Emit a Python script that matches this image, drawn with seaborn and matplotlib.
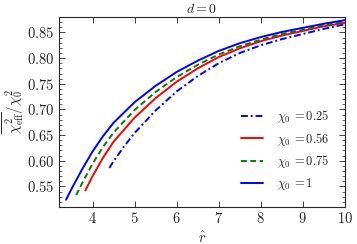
import seaborn as sns
import matplotlib.pyplot as plt
import pandas as pd
from matplotlib.ticker import MultipleLocator, FuncFormatter

# curves, r_hat vs chi_eff^2 / chi_0^2
r_chi1 = [3.37, 3.5, 3.75, 4.0, 4.25, 4.5, 5.0, 5.5, 6.0, 6.5, 7.0, 7.5, 8.0, 8.5, 9.0, 9.5, 10.0]
v_chi1 = [0.524, 0.545, 0.583, 0.618, 0.648, 0.674, 0.714, 0.746, 0.773, 0.795, 0.814, 0.829, 0.841, 0.851, 0.859, 0.867, 0.874]

r_chi075 = [3.61, 3.75, 4.0, 4.25, 4.5, 5.0, 5.5, 6.0, 6.5, 7.0, 7.5, 8.0, 8.5, 9.0, 9.5, 10.0]
v_chi075 = [0.533, 0.556, 0.594, 0.627, 0.655, 0.699, 0.734, 0.763, 0.787, 0.807, 0.823, 0.836, 0.847, 0.855, 0.864, 0.871]

r_chi056 = [3.83, 4.0, 4.25, 4.5, 5.0, 5.5, 6.0, 6.5, 7.0, 7.5, 8.0, 8.5, 9.0, 9.5, 10.0]
v_chi056 = [0.542, 0.570, 0.606, 0.637, 0.684, 0.722, 0.754, 0.780, 0.802, 0.819, 0.833, 0.844, 0.853, 0.862, 0.869]

r_chi025 = [4.4, 4.5, 4.75, 5.0, 5.5, 6.0, 6.5, 7.0, 7.5, 8.0, 8.5, 9.0, 9.5, 10.0]
v_chi025 = [0.586, 0.599, 0.628, 0.654, 0.698, 0.735, 0.765, 0.790, 0.810, 0.825, 0.837, 0.847, 0.857, 0.866]

labels = [r'$\chi_0\,{=}0.25$', r'$\chi_0\,{=}0.56$', r'$\chi_0\,{=}0.75$', r'$\chi_0\,{=}1$']

sns.set_style('ticks')
plt.rcParams['font.family'] = ['DejaVu Serif']
plt.rcParams['mathtext.fontset'] = 'cm'
plt.rcParams['xtick.direction'] = 'in'
plt.rcParams['ytick.direction'] = 'in'

fig = plt.figure(figsize=(3.57, 2.44), dpi=100)
ax = fig.add_axes([0.165, 0.152, 0.801, 0.778])

series = [
    (r_chi025, v_chi025, labels[0], '#0000ff', (0, (3.5, 1.5, 1, 1.5))),
    (r_chi056, v_chi056, labels[1], '#ff0000', '-'),
    (r_chi075, v_chi075, labels[2], '#008000', (0, (3, 1.8))),
    (r_chi1, v_chi1, labels[3], '#0000ff', '-'),
]
for r, v, lab, col, ls in series:
    df = pd.DataFrame({'r': r, 'v': v})
    sns.lineplot(data=df, x='r', y='v', ax=ax, color=col, linestyle=ls,
                 linewidth=1.4, label=lab, estimator=None, sort=False)

ax.set_xlim(3.2, 10)
ax.set_ylim(0.51, 0.88)
ax.xaxis.set_major_locator(MultipleLocator(1))
ax.yaxis.set_major_locator(MultipleLocator(0.05))
ax.yaxis.set_minor_locator(MultipleLocator(0.01))
ax.xaxis.set_major_formatter(FuncFormatter(lambda x, p: r'$%d$' % x))
ax.yaxis.set_major_formatter(FuncFormatter(lambda y, p: r'$%.2f$' % y))
ax.tick_params(which='both', top=True, right=True, labelsize=10.5)
ax.tick_params(which='major', length=4, width=0.6, pad=3)
ax.tick_params(which='minor', length=2, width=0.5)
for s in ax.spines.values():
    s.set_linewidth(0.8)

ax.set_xlabel(r'$\hat{r}$', fontsize=10.5, labelpad=3)
ax.set_ylabel(r'$\overline{\chi^2_{\rm eff}}/\chi_0^2$', fontsize=10.5, labelpad=1)
ax.set_title(r'$d=0$', fontsize=10, pad=3)

ax.legend(loc='lower right', frameon=False, fontsize=9, handlelength=1.75,
          handletextpad=1.15, labelspacing=0.45, borderaxespad=0.8)

fig.savefig('out.png', dpi=100)
